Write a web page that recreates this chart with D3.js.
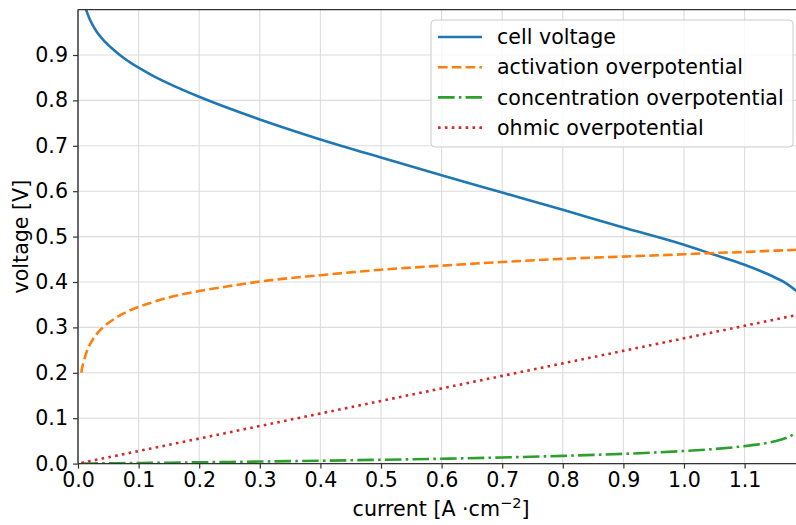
<!DOCTYPE html>
<html>
<head>
<meta charset="utf-8">
<script src="https://cdn.jsdelivr.net/npm/d3@7"></script>
<style>
  body { margin: 0; background: #fff; }
  svg { display: block; font-family: "DejaVu Sans", sans-serif; }
</style>
</head>
<body>
<svg id="chart" width="796" height="525"></svg>
<script>
// current density samples [A/cm^2]
const current = [0.0055, 0.007, 0.009, 0.014, 0.02, 0.03, 0.042, 0.06, 0.08, 0.1, 0.12, 0.15, 0.2, 0.25, 0.3, 0.4, 0.5, 0.6, 0.7, 0.8, 0.9, 1.0, 1.05, 1.1, 1.13, 1.15, 1.17, 1.18, 1.186];
const cellVoltage = [1.044, 1.032, 1.021, 0.997, 0.977, 0.953, 0.933, 0.910, 0.889, 0.872, 0.857, 0.837, 0.808, 0.782, 0.758, 0.714, 0.674, 0.635, 0.597, 0.559, 0.520, 0.482, 0.460, 0.438, 0.422, 0.410, 0.396, 0.386, 0.380];
const activation = [0.200, 0.212, 0.2226, 0.245, 0.263, 0.284, 0.301, 0.319, 0.334, 0.345, 0.354, 0.366, 0.380, 0.391, 0.401, 0.415, 0.427, 0.436, 0.444, 0.451, 0.456, 0.461, 0.464, 0.466, 0.468, 0.469, 0.470, 0.4705, 0.471];
const concentration = [0.0001, 0.0001, 0.0001, 0.0002, 0.0003, 0.0004, 0.0005, 0.0008, 0.0010, 0.0013, 0.0016, 0.0020, 0.0028, 0.0036, 0.0045, 0.0063, 0.0084, 0.0107, 0.0136, 0.0170, 0.0215, 0.0278, 0.0322, 0.0385, 0.0440, 0.0493, 0.0572, 0.0635, 0.0680];
const ohmic = [0.0015, 0.0019, 0.0025, 0.0039, 0.0055, 0.0083, 0.0116, 0.0166, 0.0221, 0.0276, 0.0331, 0.0414, 0.0552, 0.0690, 0.0828, 0.1104, 0.1380, 0.1656, 0.1932, 0.2208, 0.2484, 0.2760, 0.2898, 0.3036, 0.3119, 0.3174, 0.3229, 0.3257, 0.3273];

const seriesNames = ["cell voltage", "activation overpotential", "concentration overpotential", "ohmic overpotential"];
const seriesColors = ["#1f77b4", "#ff7f0e", "#2ca02c", "#d62728"];
const seriesDash = [null, "9.6,4.2", "16.6,4.2,2.6,4.2", "2.6,4.3"];
const seriesValues = [cellVoltage, activation, concentration, ohmic];

const xTicks = [0.0, 0.1, 0.2, 0.3, 0.4, 0.5, 0.6, 0.7, 0.8, 0.9, 1.0, 1.1];
const yTicks = [0.0, 0.1, 0.2, 0.3, 0.4, 0.5, 0.6, 0.7, 0.8, 0.9];

const margin = {left: 78, top: 9.6, right: 797, bottom: 463.6};
const svg = d3.select("#chart");
const x = d3.scaleLinear().domain([0, 1.1865]).range([margin.left, margin.right]);
const y = d3.scaleLinear().domain([0, 1.0]).range([margin.bottom, margin.top]);

svg.append("defs").append("clipPath").attr("id", "clip")
  .append("rect").attr("x", margin.left).attr("y", margin.top)
  .attr("width", margin.right - margin.left).attr("height", margin.bottom - margin.top);

// grid
const grid = svg.append("g");
grid.selectAll("line.gx").data(xTicks).join("line")
  .attr("x1", d => x(d)).attr("x2", d => x(d))
  .attr("y1", margin.top).attr("y2", margin.bottom)
  .attr("stroke", "#dcdcdc").attr("stroke-width", 1.1);
grid.selectAll("line.gy").data(yTicks).join("line")
  .attr("y1", d => y(d)).attr("y2", d => y(d))
  .attr("x1", margin.left).attr("x2", margin.right)
  .attr("stroke", "#dcdcdc").attr("stroke-width", 1.1);

// lines
const plot = svg.append("g").attr("clip-path", "url(#clip)");
seriesValues.forEach((vals, i) => {
  const data = current.map((c, j) => [c, vals[j]]);
  const line = d3.line().x(d => x(d[0])).y(d => y(d[1])).curve(d3.curveMonotoneX);
  plot.append("path").datum(data)
    .attr("d", line)
    .attr("fill", "none")
    .attr("stroke", seriesColors[i])
    .attr("stroke-width", 2.6)
    .attr("stroke-dasharray", seriesDash[i])
    .attr("stroke-linecap", "butt");
});

// axes
const fontSize = 20.6;
const xAxis = d3.axisBottom(x).tickValues(xTicks).tickFormat(d3.format(".1f")).tickSize(5).tickPadding(4);
const gx = svg.append("g").attr("transform", `translate(0,${margin.bottom})`).call(xAxis);
const yAxis = d3.axisLeft(y).tickValues(yTicks).tickFormat(d3.format(".1f")).tickSize(5).tickPadding(5);
const gy = svg.append("g").attr("transform", `translate(${margin.left},0)`).call(yAxis);
[gx, gy].forEach(g => {
  g.select(".domain").remove();
  g.selectAll(".tick line").attr("stroke", "#333").attr("stroke-width", 1.2);
  g.selectAll(".tick text").attr("font-size", fontSize).attr("font-family", "DejaVu Sans").attr("fill", "#000");
});

// spines
svg.append("line").attr("x1", margin.left).attr("x2", margin.left).attr("y1", margin.top).attr("y2", margin.bottom)
  .attr("stroke", "#333").attr("stroke-width", 1.4);
svg.append("line").attr("x1", margin.left).attr("x2", margin.right).attr("y1", margin.bottom).attr("y2", margin.bottom)
  .attr("stroke", "#333").attr("stroke-width", 1.4);
svg.append("line").attr("x1", margin.left).attr("x2", margin.right).attr("y1", margin.top).attr("y2", margin.top)
  .attr("stroke", "#333").attr("stroke-width", 1.4);

// axis labels
const xl = svg.append("text").attr("x", 441).attr("y", 516)
  .attr("text-anchor", "middle").attr("font-size", fontSize).attr("fill", "#000");
xl.append("tspan").text("current [A ·cm");
xl.append("tspan").text("−2").attr("font-size", 14.5).attr("dy", -8);
xl.append("tspan").text("]").attr("dy", 8);

svg.append("text").attr("transform", `translate(28,${(margin.top + margin.bottom) / 2}) rotate(-90)`)
  .attr("text-anchor", "middle").attr("font-size", fontSize).attr("fill", "#000").text("voltage [V]");

// legend
const lg = svg.append("g");
lg.append("rect").attr("x", 431).attr("y", 20).attr("width", 362).attr("height", 127)
  .attr("rx", 4).attr("fill", "rgba(255,255,255,0.8)").attr("stroke", "#cccccc").attr("stroke-width", 1);
seriesNames.forEach((name, i) => {
  const yy = 37 + i * 30.2;
  lg.append("line").attr("x1", 438).attr("x2", 482).attr("y1", yy).attr("y2", yy)
    .attr("stroke", seriesColors[i]).attr("stroke-width", 2.6)
    .attr("stroke-dasharray", seriesDash[i]).attr("stroke-linecap", "butt");
  lg.append("text").attr("x", 497).attr("y", yy).attr("dy", "0.35em")
    .attr("font-size", fontSize).attr("fill", "#000").text(name);
});
</script>
</body>
</html>
